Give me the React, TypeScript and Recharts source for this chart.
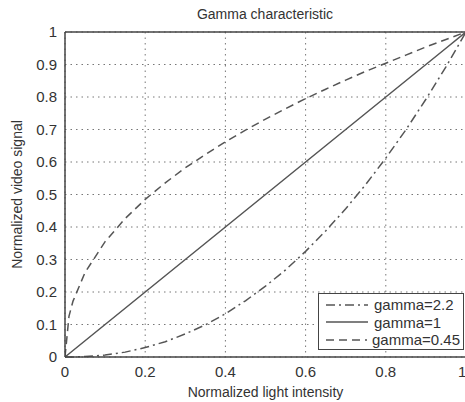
import React from "react";
import {
  CartesianGrid,
  Line,
  LineChart,
  ReferenceLine,
  XAxis,
  YAxis
} from "recharts";

// light intensity samples (x) and the curves
const intensity = [0, 0.01, 0.02, 0.05, 0.1, 0.15, 0.2, 0.25, 0.3, 0.35, 0.4, 0.45, 0.5, 0.55, 0.6, 0.65, 0.7, 0.75, 0.8, 0.85, 0.9, 0.95, 1];
const gamma22 = [0, 0, 0.0002, 0.0014, 0.006, 0.015, 0.029, 0.047, 0.071, 0.099, 0.133, 0.173, 0.218, 0.268, 0.325, 0.388, 0.456, 0.531, 0.612, 0.699, 0.793, 0.893, 1];
const gamma1 = [0, 0.01, 0.02, 0.05, 0.1, 0.15, 0.2, 0.25, 0.3, 0.35, 0.4, 0.45, 0.5, 0.55, 0.6, 0.65, 0.7, 0.75, 0.8, 0.85, 0.9, 0.95, 1];
const gamma045 = [0, 0.126, 0.172, 0.26, 0.355, 0.426, 0.485, 0.536, 0.582, 0.623, 0.662, 0.698, 0.732, 0.764, 0.795, 0.824, 0.852, 0.879, 0.904, 0.929, 0.954, 0.977, 1];

const xTicks = [0, 0.2, 0.4, 0.6, 0.8, 1];
const yTicks = [0, 0.1, 0.2, 0.3, 0.4, 0.5, 0.6, 0.7, 0.8, 0.9, 1];

const series = [
  { key: "g22", name: "gamma=2.2", dash: "9 4 2 4" },
  { key: "g1", name: "gamma=1", dash: undefined },
  { key: "g045", name: "gamma=0.45", dash: "8 5" }
];

const data = intensity.map((x, i) => ({
  x,
  g22: gamma22[i],
  g1: gamma1[i],
  g045: gamma045[i]
}));

const font = "'Liberation Sans', Arial, sans-serif";
const lineColor = "#555";
const textColor = "#333";

function fmt(v: number) {
  return String(Number(v.toFixed(1)));
}

function LegendBox() {
  return (
    <div
      style={{
        position: "absolute",
        left: 318,
        top: 293,
        width: 146,
        height: 57,
        boxSizing: "border-box",
        border: "1.5px solid #444",
        background: "#fff",
        padding: "2px 3px 2px 6px",
        fontFamily: font,
        fontSize: 15,
        color: textColor,
        lineHeight: "17.5px"
      }}
    >
      {series.map((s) => (
        <div key={s.key} style={{ display: "flex", alignItems: "center" }}>
          <svg width={44} height={10} style={{ marginRight: 5 }}>
            <line x1={1} y1={5} x2={43} y2={5} stroke={lineColor} strokeWidth={1.5} strokeDasharray={s.dash} />
          </svg>
          <span>{s.name}</span>
        </div>
      ))}
    </div>
  );
}

export default function App() {
  return (
    <div style={{ position: "absolute", left: 0, top: 0, width: 465, height: 402, background: "#fff", overflow: "hidden" }}>
      <div
        style={{
          position: "absolute",
          top: 6,
          left: 65,
          width: 400,
          textAlign: "center",
          fontFamily: font,
          fontSize: 14,
          color: textColor
        }}
      >
        Gamma characteristic
      </div>
      <LineChart width={466} height={402} data={data} margin={{ top: 32, right: 0, bottom: 0, left: 0 }}>
        <CartesianGrid stroke="#777" strokeDasharray="1.5 4" />
        <XAxis
          dataKey="x"
          type="number"
          domain={[0, 1]}
          ticks={xTicks}
          tickFormatter={fmt}
          height={45}
          axisLine={{ stroke: "#444", strokeWidth: 1.5 }}
          tickLine={false}
          tick={{ fill: textColor, fontSize: 15, fontFamily: font }}
          tickMargin={3}
          allowDataOverflow
          label={{ value: "Normalized light intensity", position: "insideBottom", offset: 5, fill: textColor, fontSize: 14, fontFamily: font }}
        />
        <YAxis
          type="number"
          domain={[0, 1]}
          ticks={yTicks}
          tickFormatter={fmt}
          width={65}
          axisLine={{ stroke: "#444", strokeWidth: 1.5 }}
          tickLine={false}
          tick={{ fill: textColor, fontSize: 15, fontFamily: font }}
          tickMargin={2}
          label={{ value: "Normalized video signal", angle: -90, position: "insideLeft", offset: 17, fill: textColor, fontSize: 14, fontFamily: font, style: { textAnchor: "middle" } }}
        />
        <ReferenceLine y={1} stroke="#444" strokeWidth={1.5} />
        <ReferenceLine x={1} stroke="#444" strokeWidth={1.5} />
        {series.map((s) => (
          <Line
            key={s.key}
            dataKey={s.key}
            name={s.name}
            type="linear"
            stroke={lineColor}
            strokeWidth={1.5}
            strokeDasharray={s.dash}
            dot={false}
            isAnimationActive={false}
          />
        ))}
      </LineChart>
      <LegendBox />
    </div>
  );
}
